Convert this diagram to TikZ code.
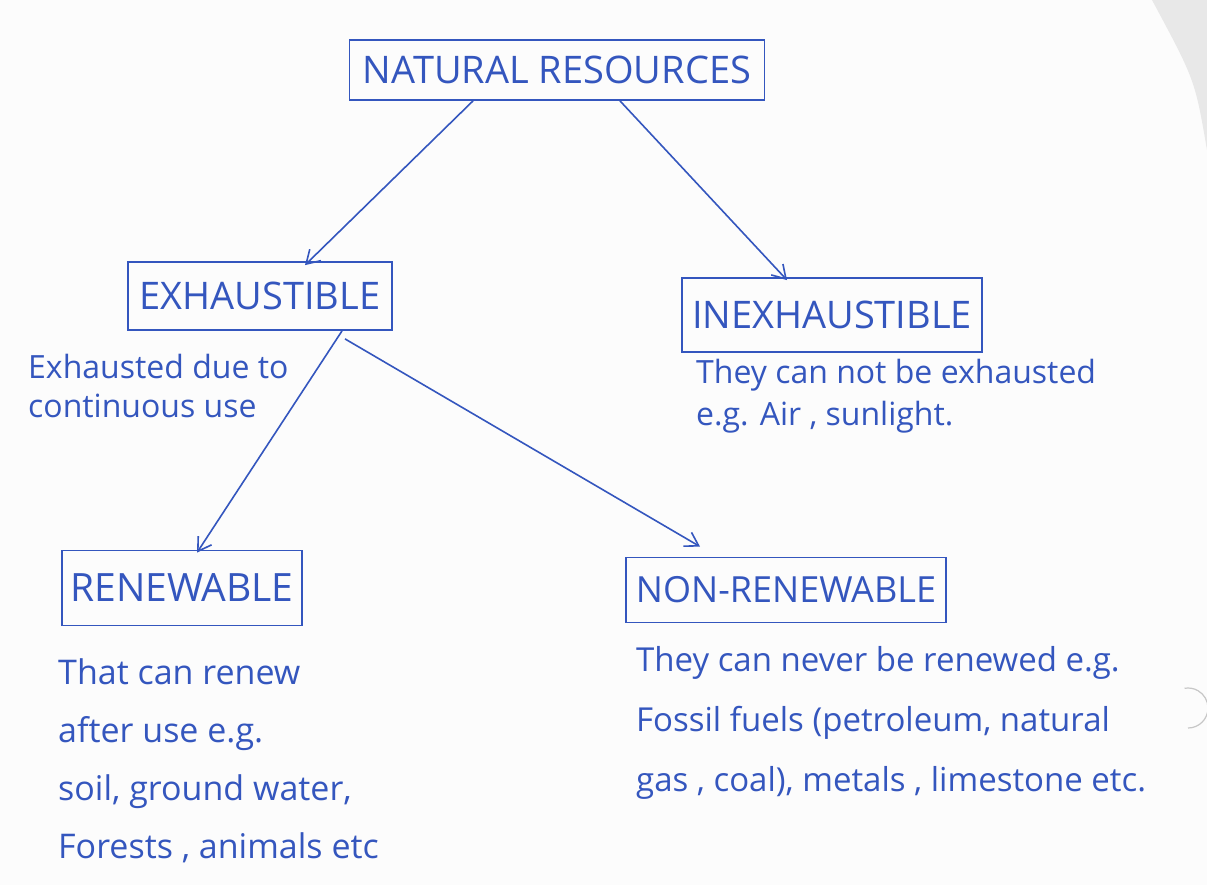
\documentclass[tikz,border=0pt]{standalone}
\usepackage{fontspec}
\setmainfont{Open Sans}
\usetikzlibrary{arrows.meta}
\definecolor{ink}{RGB}{52,86,190}
\definecolor{paper}{RGB}{252,252,252}
\tikzset{
  rbox/.style={draw=ink, line width=1.8pt, text=ink, inner sep=0pt},
  note/.style={text=ink, anchor=north west, align=left, inner sep=0pt},
  arr/.style={draw=ink, line width=1.6pt, -{Straight Barb[length=13pt,width=16pt,line width=1.6pt]}},
}
\begin{document}
\begin{tikzpicture}[x=1pt,y=-1pt]
\fill[paper] (0,0) rectangle (1207,885);
\useasboundingbox (0,0) rectangle (1207,885);
% page shadow at the right edge
\fill[black!9] (1152,0) -- (1207,0) -- (1207,150) .. controls (1195,80) .. (1152,0) -- cycle;
\draw[black!22, line width=1.2pt] (1188,728) arc[start angle=90, end angle=-100, radius=20];
% boxes
\node[rbox, font=\fontsize{38}{44}\selectfont, minimum width=415pt, minimum height=60pt] (nr) at (557,70) {NATURAL RESOURCES};
\node[rbox, font=\fontsize{38}{44}\selectfont, minimum width=264pt, minimum height=68pt] (ex) at (260,296) {EXHAUSTIBLE};
\node[rbox, font=\fontsize{38}{44}\selectfont, minimum width=300pt, minimum height=74pt] (inex) at (832,315) {INEXHAUSTIBLE};
\node[rbox, font=\fontsize{39}{44}\selectfont, minimum width=240pt, minimum height=75pt] (ren) at (182,588) {RENEWABLE};
\node[rbox, font=\fontsize{36}{44}\selectfont, minimum width=320pt, minimum height=65pt] (nonren) at (786,590) {NON-RENEWABLE};
% connectors
\draw[arr] ([xshift=-84pt]nr.south) -- ([xshift=45pt,yshift=-4pt]ex.north);
\draw[arr] ([xshift=63pt]nr.south) -- ([xshift=-45pt,yshift=-3pt]inex.north);
\draw[arr] ([xshift=82pt]ex.south) -- ([xshift=15pt,yshift=-3pt]ren.north);
\draw[arr] ([xshift=85pt,yshift=-8pt]ex.south) -- ([xshift=-86pt,yshift=10pt]nonren.north);
% notes
\node[note, font=\fontsize{32}{39}\selectfont] (exnote) at (28,354) {Exhausted due to\\continuous use};
\node[note, font=\fontsize{32}{42}\selectfont] (inexnote) at (696,359) {They can not be exhausted\\e.g. Air , sunlight.};
\node[note, font=\fontsize{34}{58}\selectfont] (rennote) at (58,658) {That can renew\\after use e.g.\\soil, ground water,\\Forests , animals etc};
\node[note, font=\fontsize{33}{60}\selectfont] (nonrennote) at (636,646) {They can never be renewed e.g.\\Fossil fuels (petroleum, natural\\gas , coal), metals , limestone etc.};
\end{tikzpicture}
\end{document}
